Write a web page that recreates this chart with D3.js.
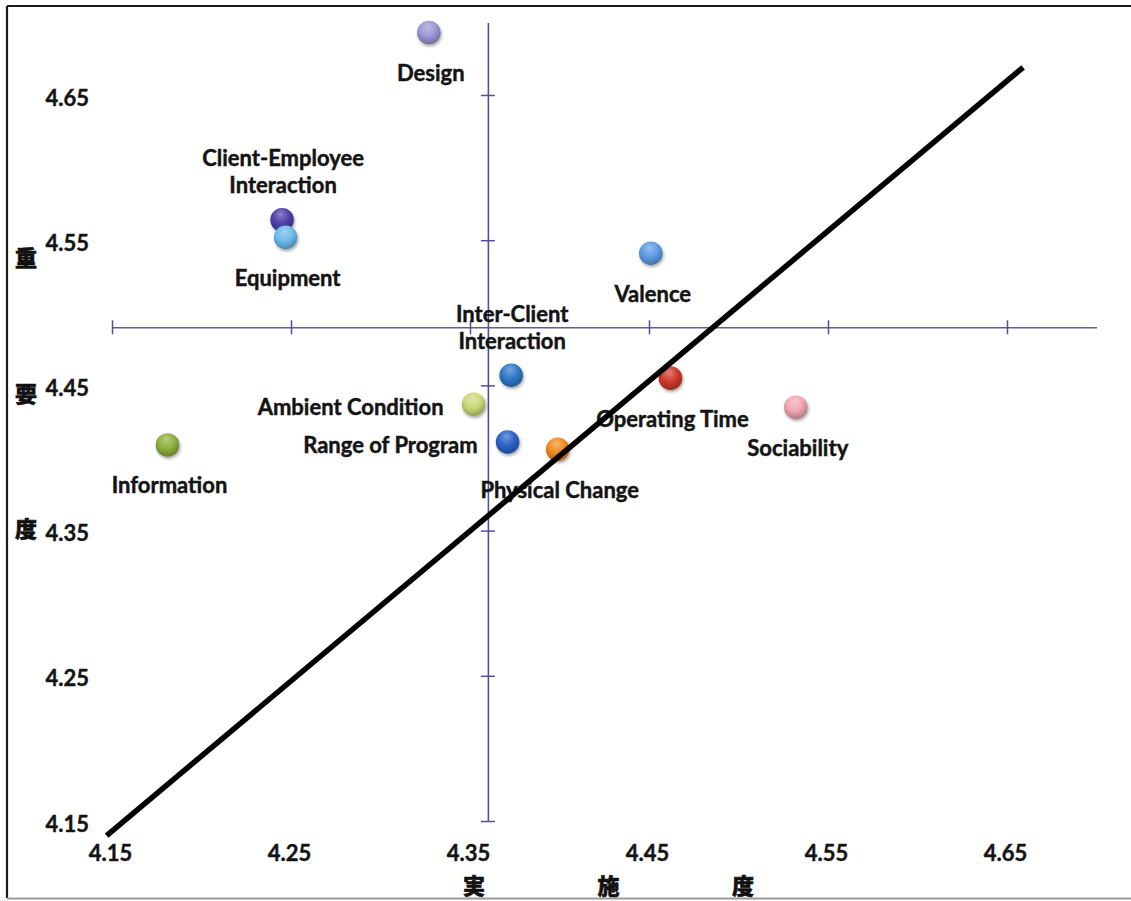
<!DOCTYPE html>
<html>
<head>
<meta charset="utf-8">
<script src="https://cdn.jsdelivr.net/npm/d3@7/dist/d3.min.js"></script>
<style>
  html, body { margin: 0; padding: 0; background: #ffffff; }
  svg { display: block; }
  .lbl { font-family: Lato, "Open Sans", sans-serif; font-weight: 700; font-size: 22px; fill: #141414; stroke: #141414; stroke-width: 0.45px; }
  .tick-lbl text { font-family: Lato, "Open Sans", sans-serif; font-weight: 700; font-size: 22px; fill: #141414; stroke: #141414; stroke-width: 0.4px; }
  .cjk { font-family: "Noto Sans CJK JP", "Noto Sans CJK SC", sans-serif; font-weight: 900; font-size: 22px; fill: #111; stroke: #111; stroke-width: 0.6px; }
</style>
</head>
<body>
<svg id="chart" width="1131" height="901"></svg>
<script>
// Service-quality factors: performance (実施度) vs importance (重要度)
const factors = [
  "Design", "Client-Employee Interaction", "Equipment", "Valence",
  "Inter-Client Interaction", "Ambient Condition", "Range of Program",
  "Physical Change", "Operating Time", "Sociability", "Information"
];
const performance = [4.327, 4.245, 4.247, 4.451, 4.373, 4.352, 4.371, 4.399, 4.462, 4.532, 4.181];
const importance  = [4.693, 4.564, 4.552, 4.541, 4.457, 4.437, 4.411, 4.406, 4.455, 4.435, 4.409];

const tickValues = [4.15, 4.25, 4.35, 4.45, 4.55, 4.65];
const axisDomain = [4.15, 4.70];

// Quadrant cross-lines (means of each measure)
const meanPerformance = 4.36;
const meanImportance = 4.49;

// Reference diagonal (performance = importance)
const diagonal = [[4.147, 4.140], [4.659, 4.669]];

const xTitle = ["実", "施", "度"];
const yTitle = ["重", "要", "度"];

// Marker colours, one per factor
const palette = ["#9d98d6", "#4d40aa", "#6cbcec", "#5e9de2", "#2f79c9", "#cbd977",
                 "#2b63c9", "#f08a22", "#cf3a2c", "#f2a7b3", "#8fb13c"];

// Where each label sits relative to its marker
const labelSide = {
  "Client-Employee Interaction": "above",
  "Inter-Client Interaction": "above",
  "Ambient Condition": "left",
  "Range of Program": "left"
};

const svg = d3.select("#chart");
const W = 1131, H = 901;

svg.append("rect").attr("width", W).attr("height", H).attr("fill", "#ffffff");

// Outer frame
svg.append("line").attr("x1", 7).attr("x2", W).attr("y1", 6).attr("y2", 6)
  .attr("stroke", "#1a1a1a").attr("stroke-width", 2.2);
svg.append("line").attr("x1", 7).attr("x2", 7).attr("y1", 6).attr("y2", 898)
  .attr("stroke", "#1a1a1a").attr("stroke-width", 2.2);
svg.append("line").attr("x1", 7).attr("x2", W).attr("y1", 898.5).attr("y2", 898.5)
  .attr("stroke", "#9a9a9a").attr("stroke-width", 2);

const x = d3.scaleLinear().domain(axisDomain).range([112, 1096.5]);
const y = d3.scaleLinear().domain(axisDomain).range([821, 22.4]);

const axisColor = "#4e519c";

// Horizontal cross axis at mean importance, ticks crossing both sides
const hAxis = svg.append("g")
  .attr("transform", `translate(0,${y(meanImportance)})`)
  .call(d3.axisBottom(x).tickValues(tickValues).tickSize(7).tickSizeOuter(0).tickFormat(""));
hAxis.selectAll(".tick line").attr("y1", -7).attr("stroke", axisColor).attr("stroke-width", 1.5);
hAxis.select(".domain").attr("stroke", "#5d5f96").attr("stroke-width", 1.6);

// Vertical cross axis at mean performance
const vAxis = svg.append("g")
  .attr("transform", `translate(${x(meanPerformance)},0)`)
  .call(d3.axisLeft(y).tickValues(tickValues).tickSize(7).tickSizeOuter(0).tickFormat(""));
vAxis.selectAll(".tick line").attr("x1", 7).attr("stroke", axisColor).attr("stroke-width", 1.5);
vAxis.select(".domain").attr("stroke", axisColor).attr("stroke-width", 1.6);

// Tick labels sit at the low edge of the plot
const yLabels = svg.append("g").attr("class", "tick-lbl")
  .attr("transform", "translate(92,3)")
  .call(d3.axisLeft(y).tickValues(tickValues).tickSize(0).tickPadding(3).tickFormat(d3.format(".2f")));
yLabels.select(".domain").remove();

const xLabels = svg.append("g").attr("class", "tick-lbl")
  .attr("transform", "translate(-2,842)")
  .call(d3.axisBottom(x).tickValues(tickValues).tickSize(0).tickPadding(3).tickFormat(d3.format(".2f")));
xLabels.select(".domain").remove();

// Axis titles, spaced characters
svg.selectAll("text.ytitle").data(yTitle).join("text")
  .attr("class", "cjk ytitle")
  .attr("x", 26).attr("y", (d, i) => 256 + i * 135.5)
  .attr("text-anchor", "middle").attr("dominant-baseline", "central")
  .text(d => d);
svg.selectAll("text.xtitle").data(xTitle).join("text")
  .attr("class", "cjk xtitle")
  .attr("x", (d, i) => 474 + i * 134.5).attr("y", 884)
  .attr("text-anchor", "middle").attr("dominant-baseline", "central")
  .text(d => d);

// Sphere shading and shadow
const defs = svg.append("defs");
palette.forEach((c, i) => {
  const g = defs.append("radialGradient").attr("id", "ball" + i)
    .attr("cx", "45%").attr("cy", "35%").attr("r", "65%").attr("fx", "45%").attr("fy", "25%");
  g.append("stop").attr("offset", "0%").attr("stop-color", d3.interpolateRgb(c, "#ffffff")(0.35));
  g.append("stop").attr("offset", "55%").attr("stop-color", c);
  g.append("stop").attr("offset", "100%").attr("stop-color", d3.color(c).darker(0.9));
});
const shadow = defs.append("filter").attr("id", "shadow")
  .attr("x", "-50%").attr("y", "-50%").attr("width", "200%").attr("height", "200%");
shadow.append("feDropShadow").attr("dx", 1).attr("dy", 2).attr("stdDeviation", 1.6)
  .attr("flood-color", "#000").attr("flood-opacity", 0.35);

const points = factors.map((name, i) => ({ name, px: performance[i], im: importance[i], i }));

svg.append("g").selectAll("circle").data(points).join("circle")
  .attr("cx", d => x(d.px)).attr("cy", d => y(d.im)).attr("r", 11.8)
  .attr("fill", d => `url(#ball${d.i})`)
  .attr("filter", "url(#shadow)");

// Point labels
const lbl = svg.append("g");
points.forEach(d => {
  const cx = x(d.px), cy = y(d.im);
  const side = labelSide[d.name] || "below";
  if (side === "below") {
    lbl.append("text").attr("class", "lbl")
      .attr("x", cx + 2).attr("y", cy + 40)
      .attr("text-anchor", "middle").attr("dominant-baseline", "central")
      .text(d.name);
  } else if (side === "above") {
    const lines = d.name.split(" ");
    lines.forEach((t, k) => {
      lbl.append("text").attr("class", "lbl")
        .attr("x", cx + 1).attr("y", cy - 62 + k * 27)
        .attr("text-anchor", "middle").attr("dominant-baseline", "central")
        .text(t);
    });
  } else {
    lbl.append("text").attr("class", "lbl")
      .attr("x", cx - 30).attr("y", cy + 2)
      .attr("text-anchor", "end").attr("dominant-baseline", "central")
      .text(d.name);
  }
});

// Diagonal reference line drawn over everything
svg.append("path")
  .datum(diagonal)
  .attr("d", d3.line().x(d => x(d[0])).y(d => y(d[1])))
  .attr("fill", "none").attr("stroke", "#000").attr("stroke-width", 5.5)
  .attr("stroke-linecap", "butt");
</script>
</body>
</html>
